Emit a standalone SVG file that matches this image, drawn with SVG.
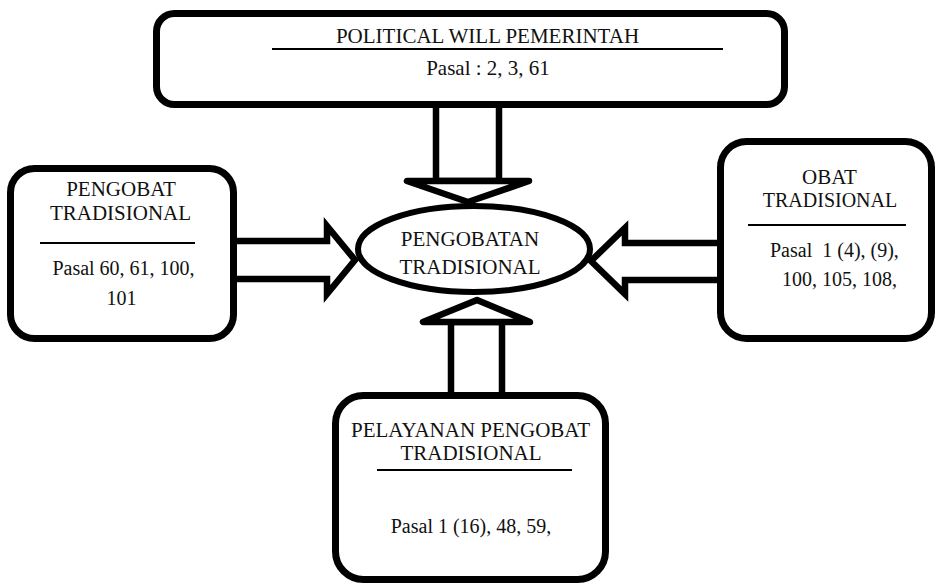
<svg xmlns="http://www.w3.org/2000/svg" width="935" height="585" viewBox="0 0 935 585">
<style>
  .box { fill: #ffffff; stroke: #000000; stroke-width: 7; }
  .ell { fill: #ffffff; stroke: #000000; stroke-width: 6; }
  .arr { fill: #ffffff; stroke: #000000; stroke-width: 6.5; stroke-linejoin: miter; stroke-miterlimit: 10; }
  .arr-r { fill: #ffffff; stroke: #000000; stroke-width: 6.5; stroke-linejoin: round; }
  .div { stroke: #000000; stroke-width: 2; }
  .t { font-family: 'Liberation Serif', 'Times New Roman', serif; font-size: 21px; fill: #111111; }
  .s { font-size: 20px; }
  .c { text-anchor: middle; }
</style>
<rect width="935" height="585" fill="#ffffff"/>

<g id="connectors">
  <rect class="arr-r" x="436" y="100" width="63" height="81"/>
  <polygon class="arr-r" points="407,181 529,181 468,202"/>
  <rect class="arr-r" x="451" y="322" width="51" height="76"/>
  <polygon class="arr-r" points="423,322 530,322 477,300"/>
  <path class="arr" d="M 230,241 L 327,241 L 327,226 L 355,260 L 327,294 L 327,279 L 230,279"/>
  <path class="arr" d="M 725,243 L 625,243 L 625,228 L 591,261 L 625,294 L 625,280 L 725,280"/>
</g>

<g id="node-political-will" class="t">
  <rect class="box" x="156.5" y="13.5" width="628" height="91" rx="18"/>
  <text class="c" x="487.5" y="43">POLITICAL WILL PEMERINTAH</text>
  <line class="div" x1="272" y1="49" x2="723" y2="49"/>
  <text class="c" x="488" y="75">Pasal : 2, 3, 61</text>
</g>

<g id="node-pengobat" class="t">
  <rect class="box" x="10.5" y="168.5" width="223" height="170" rx="24"/>
  <text class="c" x="121" y="196">PENGOBAT</text>
  <text class="c" x="120.5" y="220">TRADISIONAL</text>
  <line class="div" x1="40" y1="243" x2="195" y2="243"/>
  <text class="c s" x="123.5" y="275">Pasal 60, 61, 100,</text>
  <text class="c s" x="121.5" y="305">101</text>
</g>

<g id="node-pengobatan" class="t">
  <ellipse class="ell" cx="474" cy="249" rx="116" ry="43"/>
  <text class="c" x="470" y="246">PENGOBATAN</text>
  <text class="c" x="470" y="274">TRADISIONAL</text>
</g>

<g id="node-obat" class="t">
  <rect class="box" x="720.5" y="141.5" width="211" height="197" rx="26"/>
  <text class="c" x="829.5" y="184">OBAT</text>
  <text class="c s" x="830" y="207">TRADISIONAL</text>
  <line class="div" x1="748" y1="225" x2="906" y2="225"/>
  <text class="s" x="770" y="257" xml:space="preserve">Pasal  1 (4), (9),</text>
  <text class="s" x="782" y="286">100, 105, 108,</text>
</g>

<g id="node-pelayanan" class="t">
  <rect class="box" x="335.5" y="395.5" width="270" height="184" rx="28"/>
  <text class="c" x="470.5" y="437">PELAYANAN PENGOBAT</text>
  <text class="c" x="471" y="460">TRADISIONAL</text>
  <line class="div" x1="377" y1="470" x2="572" y2="470"/>
  <text class="c s" x="471" y="533">Pasal 1 (16), 48, 59,</text>
</g>
</svg>
